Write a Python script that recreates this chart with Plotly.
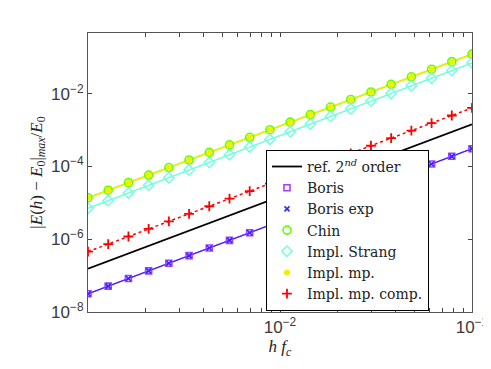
import plotly.graph_objects as go

# step sizes h*f_c (20 points, log spaced)
h = [1.000e-3, 1.274e-3, 1.624e-3, 2.069e-3, 2.637e-3, 3.360e-3, 4.281e-3,
     5.456e-3, 6.952e-3, 8.859e-3, 1.129e-2, 1.438e-2, 1.833e-2, 2.336e-2,
     2.976e-2, 3.793e-2, 4.833e-2, 6.158e-2, 7.848e-2, 1.000e-1]

ref_2nd = [1.549e-7, 2.506e-7, 4.055e-7, 6.562e-7, 1.062e-6, 1.718e-6, 2.780e-6,
           4.498e-6, 7.278e-6, 1.178e-5, 1.906e-5, 3.083e-5, 4.989e-5, 8.072e-5,
           1.306e-4, 2.113e-4, 3.419e-4, 5.532e-4, 8.951e-4, 1.448e-3]

boris = [3.162e-8, 5.129e-8, 8.318e-8, 1.349e-7, 2.188e-7, 3.548e-7, 5.754e-7,
         9.333e-7, 1.514e-6, 2.455e-6, 3.981e-6, 6.457e-6, 1.047e-5, 1.698e-5,
         2.754e-5, 4.467e-5, 7.244e-5, 1.175e-4, 1.905e-4, 3.090e-4]

boris_exp = [3.162e-8, 5.129e-8, 8.318e-8, 1.349e-7, 2.188e-7, 3.548e-7, 5.754e-7,
             9.333e-7, 1.514e-6, 2.455e-6, 3.981e-6, 6.457e-6, 1.047e-5, 1.698e-5,
             2.754e-5, 4.467e-5, 7.244e-5, 1.175e-4, 1.905e-4, 3.090e-4]

chin = [1.380e-5, 2.228e-5, 3.597e-5, 5.808e-5, 9.376e-5, 1.510e-4, 2.438e-4,
        3.936e-4, 6.353e-4, 1.026e-3, 1.656e-3, 2.673e-3, 4.315e-3, 6.966e-3,
        1.122e-2, 1.811e-2, 2.924e-2, 4.721e-2, 7.621e-2, 1.230e-1]

impl_strang = [7.080e-6, 1.150e-5, 1.867e-5, 3.032e-5, 4.923e-5, 7.994e-5, 1.298e-4,
               2.108e-4, 3.423e-4, 5.558e-4, 9.025e-4, 1.466e-3, 2.380e-3, 3.864e-3,
               6.275e-3, 1.019e-2, 1.655e-2, 2.687e-2, 4.363e-2, 7.080e-2]

impl_mp = [1.380e-5, 2.228e-5, 3.597e-5, 5.808e-5, 9.376e-5, 1.510e-4, 2.438e-4,
           3.936e-4, 6.353e-4, 1.026e-3, 1.656e-3, 2.673e-3, 4.315e-3, 6.966e-3,
           1.122e-2, 1.811e-2, 2.924e-2, 4.721e-2, 7.621e-2, 1.230e-1]

impl_mp_comp = [4.571e-7, 7.378e-7, 1.191e-6, 1.922e-6, 3.102e-6, 5.007e-6, 8.082e-6,
                1.304e-5, 2.105e-5, 3.398e-5, 5.485e-5, 8.852e-5, 1.429e-4, 2.306e-4,
                3.722e-4, 6.008e-4, 9.697e-4, 1.565e-3, 2.526e-3, 4.077e-3]

x_ticks = [2e-3, 3e-3, 4e-3, 5e-3, 6e-3, 7e-3, 8e-3, 9e-3, 1e-2,
           2e-2, 3e-2, 4e-2, 5e-2, 6e-2, 7e-2, 8e-2, 9e-2, 1e-1]
x_ticktext = ["", "", "", "", "", "", "", "", "10<sup>\u22122</sup>",
              "", "", "", "", "", "", "", "", "10<sup>\u22121</sup>"]
y_ticks = [1e-8, 1e-6, 1e-4, 1e-2]
y_ticktext = ["10<sup>\u22128</sup>", "10<sup>\u22126</sup>",
              "10<sup>\u22124</sup>", "10<sup>\u22122</sup>"]

PURPLE = '#a83cff'
BLUE = '#2a2aff'
GREEN = '#66ff00'
CYAN = '#70ffdc'
YELLOW = '#f0f000'
RED = '#ff0000'

fig = go.Figure()

# connecting lines (not in legend)
fig.add_trace(go.Scatter(x=h, y=boris, mode='lines', line=dict(color=PURPLE, width=1.5), showlegend=False))
fig.add_trace(go.Scatter(x=h, y=boris_exp, mode='lines', line=dict(color=BLUE, width=1.0), showlegend=False))
fig.add_trace(go.Scatter(x=h, y=chin, mode='lines', line=dict(color=GREEN, width=1.5), showlegend=False))
fig.add_trace(go.Scatter(x=h, y=impl_strang, mode='lines', line=dict(color=CYAN, width=1.5), showlegend=False))
fig.add_trace(go.Scatter(x=h, y=impl_mp, mode='lines', line=dict(color=YELLOW, width=1.5), showlegend=False))
fig.add_trace(go.Scatter(x=h, y=impl_mp_comp, mode='lines', line=dict(color=RED, width=1.5, dash='dot'), showlegend=False))

# legend entries / markers
fig.add_trace(go.Scatter(x=h, y=ref_2nd, mode='lines', name='ref. 2<sup><i>nd</i></sup> order',
                         line=dict(color='black', width=1.8)))
fig.add_trace(go.Scatter(x=h, y=boris, mode='markers', name='Boris',
                         marker=dict(symbol='square-open', size=6, color=PURPLE, line=dict(width=1.6))))
fig.add_trace(go.Scatter(x=h, y=boris_exp, mode='markers', name='Boris exp',
                         marker=dict(symbol='x-thin', size=5, color=BLUE, line=dict(width=1.6, color=BLUE))))
fig.add_trace(go.Scatter(x=h, y=chin, mode='markers', name='Chin',
                         marker=dict(symbol='circle-open', size=8, color=GREEN, line=dict(width=1.6))))
fig.add_trace(go.Scatter(x=h, y=impl_strang, mode='markers', name='Impl. Strang',
                         marker=dict(symbol='diamond-open', size=8, color=CYAN, line=dict(width=1.4))))
fig.add_trace(go.Scatter(x=h, y=impl_mp, mode='markers', name='Impl. mp.',
                         marker=dict(symbol='circle', size=6, color=YELLOW, line=dict(width=0))))
fig.add_trace(go.Scatter(x=h, y=impl_mp_comp, mode='markers', name='Impl. mp. comp.',
                         marker=dict(symbol='cross-thin', size=7, color=RED, line=dict(width=1.8, color=RED))))

axis_style = dict(type='log', showgrid=False, zeroline=False, showline=True, mirror='ticks',
                  automargin=False,
                  linecolor='#555555', linewidth=1, ticks='inside', ticklen=4, tickcolor='#444444',
                  tickfont=dict(family='Liberation Sans, Arial, sans-serif', size=17, color='#3a3a3a'))

fig.update_xaxes(range=[-3, -1], tickmode='array', tickvals=x_ticks, ticktext=x_ticktext,
                 title=dict(text='<i>h f<sub>c</sub></i>', standoff=2,
                            font=dict(family='Liberation Serif, serif', size=17, color='#222222')),
                 **axis_style)
fig.update_yaxes(range=[-8, -0.33], tickmode='array', tickvals=y_ticks, ticktext=y_ticktext,
                 title=dict(text='|<i>E</i>(<i>h</i>) \u2212 <i>E</i><sub>0</sub>|<sub><i>max</i></sub>/<i>E</i><sub>0</sub>',
                            standoff=4, font=dict(family='Liberation Serif, serif', size=17, color='#222222')),
                 **axis_style)

# page body adds an 8px offset, so the figure is sized to fit the window
fig.update_layout(
    template='none',
    width=483, height=361,
    margin=dict(l=80, r=19, t=25, b=57),
    paper_bgcolor='white', plot_bgcolor='white',
    legend=dict(x=0.4635, y=0.581, xanchor='left', yanchor='top',
                bgcolor='white', bordercolor='black', borderwidth=1,
                font=dict(family='DejaVu Serif, serif', size=14, color='#222222'),
                tracegroupgap=0, itemwidth=30, traceorder='normal'),
)

fig.write_html("out.html")
